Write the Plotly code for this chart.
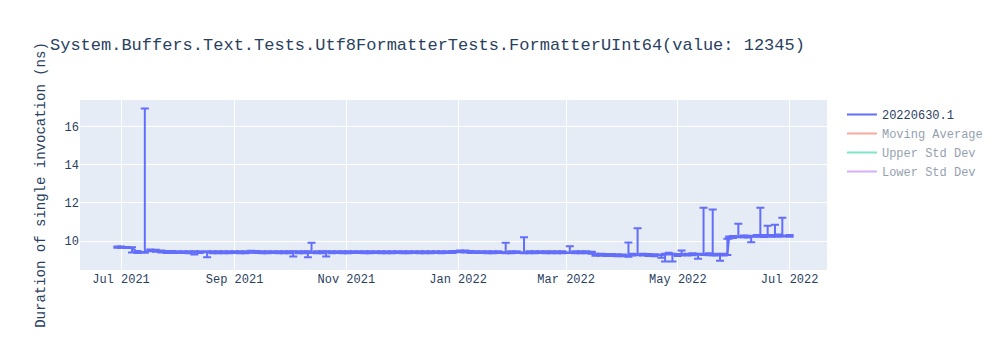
import plotly.graph_objects as go
import pandas as pd

dates = [
    "2021-06-29", "2021-07-01", "2021-07-04", "2021-07-07", "2021-07-10", "2021-07-14", "2021-07-17", "2021-07-20", "2021-07-23", "2021-07-26",
    "2021-07-29", "2021-08-01", "2021-08-04", "2021-08-07", "2021-08-10", "2021-08-13", "2021-08-17", "2021-08-20", "2021-08-23", "2021-08-26",
    "2021-08-29", "2021-09-01", "2021-09-04", "2021-09-07", "2021-09-10", "2021-09-13", "2021-09-16", "2021-09-19", "2021-09-22", "2021-09-25",
    "2021-09-28", "2021-10-01", "2021-10-03", "2021-10-06", "2021-10-09", "2021-10-11", "2021-10-13", "2021-10-16", "2021-10-19", "2021-10-21",
    "2021-10-24", "2021-10-27", "2021-10-30", "2021-11-02", "2021-11-05", "2021-11-08", "2021-11-11", "2021-11-14", "2021-11-17", "2021-11-20",
    "2021-11-23", "2021-11-26", "2021-11-29", "2021-12-02", "2021-12-05", "2021-12-08", "2021-12-11", "2021-12-14", "2021-12-17", "2021-12-20",
    "2021-12-23", "2021-12-26", "2021-12-29", "2022-01-02", "2022-01-05", "2022-01-08", "2022-01-11", "2022-01-14", "2022-01-17", "2022-01-20",
    "2022-01-23", "2022-01-27", "2022-01-30", "2022-02-02", "2022-02-06", "2022-02-09", "2022-02-12", "2022-02-15", "2022-02-18", "2022-02-21",
    "2022-02-24", "2022-02-27", "2022-03-03", "2022-03-06", "2022-03-09", "2022-03-12", "2022-03-15", "2022-03-17", "2022-03-20", "2022-03-23",
    "2022-03-26", "2022-03-29", "2022-04-01", "2022-04-04", "2022-04-06", "2022-04-09", "2022-04-12", "2022-04-15", "2022-04-18", "2022-04-22",
    "2022-04-24", "2022-04-26", "2022-04-28", "2022-05-01", "2022-05-03", "2022-05-06", "2022-05-09", "2022-05-12", "2022-05-15", "2022-05-18",
    "2022-05-20", "2022-05-22", "2022-05-24", "2022-05-26", "2022-05-28", "2022-05-29", "2022-05-31", "2022-06-03", "2022-06-06", "2022-06-08",
    "2022-06-10", "2022-06-13", "2022-06-15", "2022-06-17", "2022-06-19", "2022-06-21", "2022-06-23", "2022-06-25", "2022-06-27", "2022-07-01",
]

values = [
    9.69, 9.69, 9.67, 9.66, 9.44, 9.45, 9.52, 9.50, 9.46, 9.44,
    9.44, 9.43, 9.43, 9.42, 9.42, 9.43, 9.42, 9.42, 9.42, 9.42,
    9.42, 9.43, 9.42, 9.42, 9.45, 9.44, 9.42, 9.42, 9.43, 9.42,
    9.42, 9.42, 9.42, 9.42, 9.42, 9.42, 9.44, 9.42, 9.42, 9.42,
    9.42, 9.43, 9.42, 9.42, 9.43, 9.43, 9.42, 9.42, 9.43, 9.42,
    9.42, 9.42, 9.43, 9.42, 9.42, 9.43, 9.42, 9.42, 9.42, 9.43,
    9.42, 9.43, 9.44, 9.47, 9.46, 9.44, 9.43, 9.43, 9.42, 9.42,
    9.43, 9.42, 9.42, 9.43, 9.42, 9.42, 9.42, 9.43, 9.42, 9.42,
    9.42, 9.42, 9.43, 9.42, 9.42, 9.42, 9.40, 9.29, 9.29, 9.28,
    9.28, 9.27, 9.26, 9.24, 9.30, 9.32, 9.30, 9.28, 9.27, 9.26,
    9.30, 9.35, 9.30, 9.28, 9.32, 9.30, 9.32, 9.30, 9.33, 9.32,
    9.32, 9.30, 9.28, 9.30, 9.33, 10.20, 10.22, 10.26, 10.25, 10.24,
    10.22, 10.28, 10.30, 10.27, 10.32, 10.28, 10.30, 10.30, 10.30, 10.28,
]

err_plus = [
    0.03, 0.03, 0.03, 0.03, 0.05, 7.48, 0.05, 0.05, 0.05, 0.05,
    0.05, 0.05, 0.05, 0.05, 0.05, 0.05, 0.05, 0.05, 0.05, 0.05,
    0.05, 0.05, 0.05, 0.05, 0.05, 0.05, 0.05, 0.05, 0.05, 0.05,
    0.05, 0.05, 0.05, 0.05, 0.05, 0.05, 0.48, 0.05, 0.05, 0.05,
    0.05, 0.05, 0.05, 0.05, 0.05, 0.05, 0.05, 0.05, 0.05, 0.05,
    0.05, 0.05, 0.05, 0.05, 0.05, 0.05, 0.05, 0.05, 0.05, 0.05,
    0.05, 0.05, 0.05, 0.05, 0.05, 0.05, 0.05, 0.05, 0.05, 0.05,
    0.05, 0.50, 0.05, 0.05, 0.78, 0.05, 0.05, 0.05, 0.05, 0.05,
    0.05, 0.05, 0.31, 0.05, 0.05, 0.05, 0.05, 0.05, 0.05, 0.05,
    0.05, 0.05, 0.05, 0.69, 0.05, 1.36, 0.05, 0.05, 0.05, 0.05,
    0.05, 0.05, 0.05, 0.05, 0.19, 0.05, 0.05, 0.05, 2.42, 0.05,
    2.34, 0.05, 0.05, 0.05, 0.80, 0.05, 0.05, 0.65, 0.05, 0.05,
    0.05, 0.05, 1.45, 0.05, 0.49, 0.05, 0.56, 0.05, 0.92, 0.05,
]

err_minus = [
    0.03, 0.03, 0.03, 0.25, 0.05, 0.05, 0.05, 0.05, 0.05, 0.05,
    0.05, 0.05, 0.05, 0.05, 0.12, 0.05, 0.26, 0.05, 0.05, 0.05,
    0.05, 0.05, 0.05, 0.05, 0.05, 0.05, 0.05, 0.05, 0.05, 0.05,
    0.05, 0.05, 0.22, 0.05, 0.05, 0.26, 0.05, 0.05, 0.05, 0.22,
    0.05, 0.05, 0.05, 0.05, 0.05, 0.05, 0.05, 0.05, 0.05, 0.05,
    0.05, 0.05, 0.05, 0.05, 0.05, 0.05, 0.05, 0.05, 0.05, 0.05,
    0.05, 0.05, 0.05, 0.05, 0.05, 0.05, 0.05, 0.05, 0.05, 0.05,
    0.05, 0.05, 0.05, 0.05, 0.05, 0.05, 0.05, 0.05, 0.05, 0.05,
    0.05, 0.05, 0.05, 0.05, 0.05, 0.05, 0.05, 0.05, 0.05, 0.05,
    0.05, 0.05, 0.05, 0.05, 0.05, 0.05, 0.05, 0.05, 0.05, 0.13,
    0.36, 0.05, 0.36, 0.05, 0.05, 0.05, 0.05, 0.22, 0.05, 0.05,
    0.05, 0.05, 0.30, 0.05, 0.05, 0.06, 0.05, 0.05, 0.05, 0.05,
    0.27, 0.05, 0.05, 0.05, 0.05, 0.05, 0.05, 0.05, 0.05, 0.05,
]

assert len(dates) == len(values) == len(err_plus) == len(err_minus)

title = "System.Buffers.Text.Tests.Utf8FormatterTests.FormatterUInt64(value: 12345)"
series_name = "20220630.1"

s = pd.Series(values)
moving_avg = s.rolling(5, min_periods=1).mean()
moving_std = s.rolling(5, min_periods=1).std().fillna(0)
upper = moving_avg + moving_std
lower = moving_avg - moving_std

fig = go.Figure()
fig.add_trace(go.Scatter(
    x=dates, y=values, mode="lines", name=series_name,
    line=dict(color="#636efa", width=2),
    error_y=dict(type="data", symmetric=False, array=err_plus, arrayminus=err_minus,
                 color="#636efa", thickness=2, width=4),
))
fig.add_trace(go.Scatter(x=dates, y=moving_avg, mode="lines", name="Moving Average",
                         visible="legendonly", line=dict(color="#EF553B")))
fig.add_trace(go.Scatter(x=dates, y=upper, mode="lines", name="Upper Std Dev",
                         visible="legendonly", line=dict(color="#00cc96")))
fig.add_trace(go.Scatter(x=dates, y=lower, mode="lines", name="Lower Std Dev",
                         visible="legendonly", line=dict(color="#ab63fa")))

fig.update_layout(
    width=1000, height=350,
    template="plotly",
    font=dict(family="Courier New, monospace"),
    title=dict(text=title),
    yaxis=dict(title=dict(text="Duration of single invocation (ns)")),
    xaxis=dict(tickformat="%b %Y", dtick="M2"),
)

fig.write_html("out.html")
